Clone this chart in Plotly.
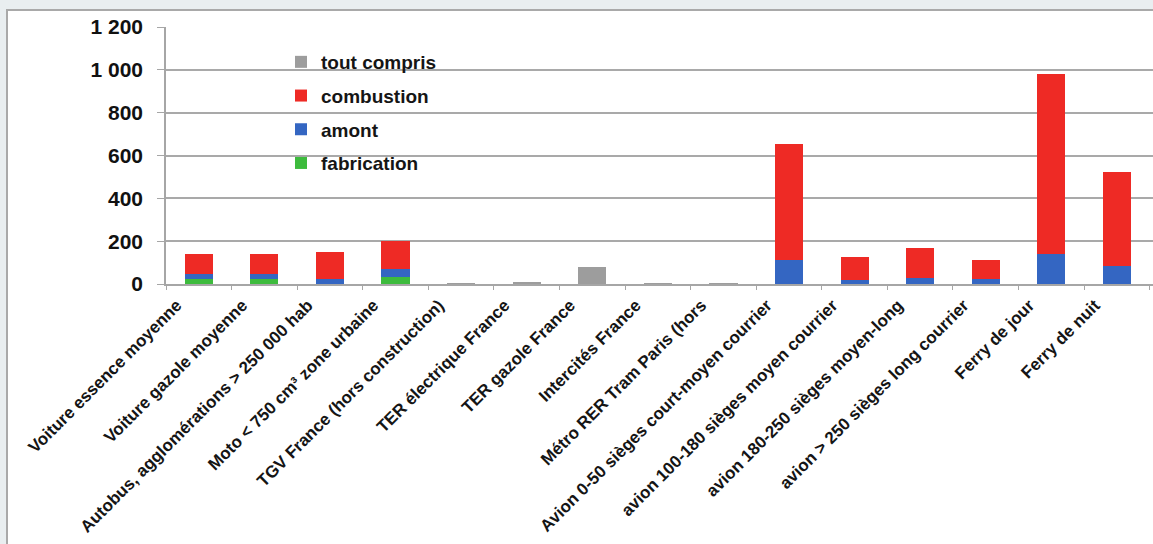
import plotly.graph_objects as go

# Categories (modes de transport)
categories = [
    "Voiture essence moyenne",
    "Voiture gazole moyenne",
    "Autobus, agglomérations > 250 000 hab",
    "Moto < 750 cm³ zone urbaine",
    "TGV France (hors construction)",
    "TER électrique France",
    "TER gazole France",
    "Intercités France",
    "Métro RER Tram Paris (hors",
    "Avion 0-50 sièges court-moyen courrier",
    "avion 100-180 sièges moyen courrier",
    "avion 180-250 sièges moyen-long",
    "avion > 250 sièges long courrier",
    "Ferry de jour",
    "Ferry de nuit",
]

# Stacked components
fabrication = [25, 25, 0, 32, 0, 0, 0, 0, 0, 0, 0, 0, 0, 0, 0]
amont = [23, 22, 25, 38, 0, 0, 0, 0, 0, 110, 20, 27, 23, 140, 83]
combustion = [92, 93, 125, 133, 0, 0, 0, 0, 0, 542, 105, 140, 91, 842, 440]
tout_compris = [0, 0, 0, 0, 3, 5, 78, 2, 2, 0, 0, 0, 0, 0, 0]

y_ticks = [0, 200, 400, 600, 800, 1000, 1200]

# (name, values, colour, legend rank)
series = [
    ("fabrication", fabrication, "#3dbb3d", 4),
    ("amont", amont, "#3466c2", 3),
    ("combustion", combustion, "#ee2a25", 2),
    ("tout compris", tout_compris, "#9d9d9d", 1),
]

fig = go.Figure()
for name, vals, color, rank in series:
    fig.add_trace(go.Bar(
        x=categories, y=vals, name=name,
        marker=dict(color=color, line=dict(width=0)),
        width=0.43, legendgroup=name, legendrank=rank,
    ))

# Plot area geometry in pixels
L, R, T, B = 166, 0, 27, 260
W, H = 1153 - L - R, 544 - T - B

def px_x(p):
    return (p - L) / W

def px_y(p):
    return (544 - B - p) / H

fig.update_layout(
    width=1153, height=544,
    margin=dict(l=L, r=R, t=T, b=B),
    barmode="stack",
    paper_bgcolor="#e9eef0",
    plot_bgcolor="rgba(0,0,0,0)",
    separators=", ",
    font=dict(family="Liberation Sans, Arial, sans-serif", color="#111111"),
    showlegend=True,
    legend=dict(
        x=px_x(281), y=px_y(43), xanchor="left", yanchor="top",
        bgcolor="rgba(0,0,0,0)",
        traceorder="grouped",
        tracegroupgap=6,
        font=dict(size=19, family="Liberation Sans, Arial, sans-serif", color="#151515", weight="bold"),
        itemwidth=30,
    ),
    shapes=[
        dict(type="rect", xref="paper", yref="paper",
             x0=px_x(7), x1=px_x(1160), y0=px_y(10), y1=px_y(560),
             fillcolor="white", line=dict(color="#a9a9a9", width=2),
             layer="below"),
    ],
    xaxis=dict(
        range=[-0.5, 14.55],
        tickangle=-45,
        ticklabelshift=-22,
        ticklabelstandoff=3,
        tickfont=dict(size=17, family="Liberation Sans, Arial, sans-serif", color="#151515", weight="bold"),
        showline=True, linecolor="#a6a6a6", linewidth=1.5,
        ticks="outside", tickson="boundaries", ticklen=4, tickcolor="#a6a6a6",
        showgrid=False, automargin=False,
    ),
    yaxis=dict(
        range=[0, 1200],
        tickvals=y_ticks,
        separatethousands=True,
        tickfont=dict(size=21, family="Liberation Sans, Arial, sans-serif", color="#111111", weight="bold"),
        showline=True, linecolor="#a6a6a6", linewidth=1.5,
        ticks="outside", ticklen=7, tickcolor="#a6a6a6",
        showgrid=True, gridcolor="#a9a9a9", gridwidth=1.5,
        zeroline=False, automargin=False,
        ticklabelstandoff=10,
    ),
)

fig.write_html("out.html")
